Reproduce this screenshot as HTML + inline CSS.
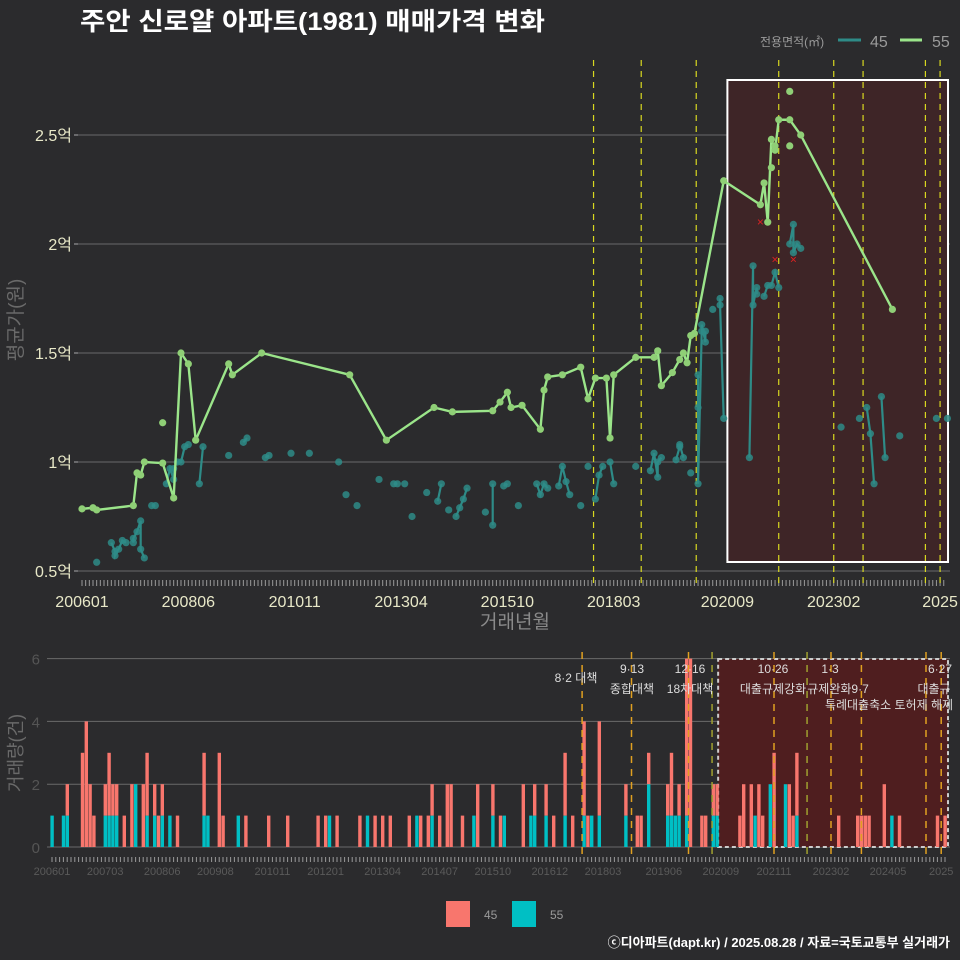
<!DOCTYPE html>
<html><head><meta charset="utf-8">
<style>
html,body{margin:0;padding:0;background:#2b2b2d;}
svg{display:block;font-family:"Liberation Sans","Noto Sans CJK KR",sans-serif;}
</style></head>
<body>
<svg id="chart" width="960" height="960" viewBox="0 0 960 960" xmlns="http://www.w3.org/2000/svg">
<rect width="960" height="960" fill="#2b2b2d"/>
<text x="80" y="30" fill="#ffffff" font-size="25" font-weight="bold" textLength="465" lengthAdjust="spacingAndGlyphs">주안 신로얄 아파트(1981) 매매가격 변화</text>
<g>
<text x="760" y="46" fill="#9a9a9a" font-size="12">전용면적(㎡)</text>
<line x1="838" y1="40" x2="861" y2="40" stroke="#2e8b87" stroke-width="3"/>
<text x="870" y="47" fill="#9a9a9a" font-size="16">45</text>
<line x1="900" y1="40" x2="922" y2="40" stroke="#9be58a" stroke-width="3"/>
<text x="932" y="47" fill="#9a9a9a" font-size="16">55</text>
</g>
<g id="topPanel"></g>
<g id="botPanel"></g>
<g>
<rect x="446" y="901" width="24" height="26" fill="#F8766D"/>
<text x="484" y="919" fill="#9a9a9a" font-size="12">45</text>
<rect x="512" y="901" width="24" height="26" fill="#00BFC4"/>
<text x="550" y="919" fill="#9a9a9a" font-size="12">55</text>
</g>
<text x="950" y="947" text-anchor="end" fill="#ffffff" font-size="13" font-weight="bold">ⓒ디아파트(dapt.kr) / 2025.08.28 / 자료=국토교통부 실거래가</text>
</svg>
<script>
// ---- data (month index: 0 = 2006-01) ----
const greenMonths=[0,3,4,14,15,16,17,22,25,27,29,31,40,41,49,73,83,96,101,112,114,116,117,120,125,126,127,131,136,138,140,143,144,145,151,156,157,158,161,163,164,165,166,167,175,185,186,187,188,189,190,193,196,221];
const greenValues=[0.785,0.79,0.78,0.80,0.95,0.94,1.0,0.995,0.835,1.5,1.45,1.10,1.45,1.40,1.50,1.40,1.10,1.25,1.23,1.235,1.275,1.32,1.25,1.26,1.15,1.33,1.39,1.40,1.435,1.29,1.385,1.385,1.11,1.40,1.48,1.48,1.51,1.35,1.41,1.47,1.50,1.455,1.58,1.59,2.29,2.18,2.28,2.10,2.48,2.43,2.57,2.57,2.50,1.70];
const greenExtraMonths=[22,188,189,193,193];
const greenExtraValues=[1.18,2.35,2.45,2.70,2.45];
const tealMonths=[4,8,9,9,10,11,12,14,14,15,16,16,17,19,20,23,24,25,25,26,27,28,29,32,33,40,44,45,50,51,57,62,70,72,75,81,85,86,88,90,94,97,98,100,102,103,104,105,110,112,112,115,116,119,124,125,126,127,130,131,132,133,136,138,140,141,142,144,145,151,155,156,157,157,158,162,163,163,164,166,168,168,168,169,169,170,170,172,174,174,175,182,183,183,184,184,186,187,188,189,190,193,194,194,195,196,207,212,214,215,216,218,219,223,233,236];
const tealValues=[0.54,0.63,0.59,0.57,0.60,0.64,0.63,0.63,0.65,0.68,0.73,0.60,0.56,0.80,0.80,0.90,0.97,0.92,0.97,1.0,1.0,1.07,1.08,0.90,1.07,1.03,1.09,1.11,1.02,1.03,1.04,1.04,1.0,0.85,0.80,0.92,0.90,0.90,0.90,0.75,0.86,0.82,0.90,0.78,0.75,0.79,0.83,0.88,0.77,0.71,0.90,0.89,0.90,0.80,0.90,0.85,0.90,0.88,0.89,0.98,0.91,0.85,0.80,0.98,0.83,0.94,0.98,1.0,0.90,0.98,0.96,1.04,0.93,1.0,1.02,1.01,1.07,1.08,1.02,0.95,1.25,1.40,0.90,1.60,1.63,1.55,1.60,1.70,1.75,1.72,1.20,1.02,1.90,1.72,1.80,1.77,1.76,1.81,1.81,1.87,1.80,2.0,2.09,1.96,2.0,1.98,1.16,1.20,1.25,1.13,0.90,1.30,1.02,1.12,1.20,1.20];
const redXMonths=[185,189,194];
const redXValues=[2.10,1.93,1.93];
const policyMonths=[139.5,152.5,167.5,190,205,213,230,234];
const bottomExtraLines=[173.7,198.7];
const yTicks=[0.5,1,1.5,2,2.5];
const yTickLabels=["0.5억","1억","1.5억","2억","2.5억"];
const topXTickMonths=[0,29,58,87,116,145,176,205,234];
const topXTickLabels=["200601","200806","201011","201304","201510","201803","202009","202302","2025"];
const botXTickMonths=[0,14,29,43,58,72,87,102,116,131,145,161,176,190,205,220,234];
const botXTickLabels=["200601","200703","200806","200908","201011","201201","201304","201407","201510","201612","201803","201906","202009","202111","202302","202405","2025"];
const barMonths45=[4,8,9,10,11,14,15,16,17,19,21,24,25,27,28,29,33,40,44,45,51,57,62,70,72,75,81,85,87,89,94,97,99,100,102,104,105,108,112,116,118,124,127,130,132,135,137,140,141,144,151,154,155,157,162,163,165,167,168,171,172,174,175,181,182,184,186,187,190,194,195,196,207,212,213,214,215,219,223,233,235];
const barCounts45=[1,3,4,2,1,1,2,1,1,1,2,2,2,1,1,1,1,2,3,1,1,1,1,1,1,1,1,1,1,1,1,1,1,1,1,2,2,1,2,1,1,2,1,1,1,2,1,3,1,3,1,1,1,1,1,2,1,5,6,1,1,1,1,1,2,2,2,1,3,2,1,2,1,1,1,1,1,2,1,1,1];
const barMonths55=[0,3,4,14,15,16,17,22,25,27,29,31,40,41,49,73,83,96,100,111,116,119,126,127,130,135,140,142,144,151,157,162,163,164,165,167,174,175,185,189,193,196,221];
const barCounts55=[1,1,1,1,1,1,1,2,1,1,1,1,1,1,1,1,1,1,1,1,1,1,1,1,1,1,1,1,1,1,2,1,1,1,1,1,1,1,1,2,2,1,1];
const yBarTicks=[0,2,4,6];

const NS="http://www.w3.org/2000/svg";
function mk(tag,attrs,parent){const e=document.createElementNS(NS,tag);for(const k in attrs)e.setAttribute(k,attrs[k]);parent.appendChild(e);return e;}
const tx=m=>82+m*3.667;
const ty=v=>571-(v-0.5)*218;
const topG=document.getElementById('topPanel');


yTicks.forEach((v,i)=>{
  const g=mk('line',{x1:78,x2:950,y1:ty(v),y2:ty(v),stroke:'#6a6a6a','stroke-width':1},topG);
  
  
  mk('line',{x1:74,x2:78,y1:ty(v),y2:ty(v),stroke:'#aaa'},topG);
  const t=mk('text',{x:72,y:ty(v)+6,'text-anchor':'end',fill:'#e8e8c8','font-size':16},topG);
  t.textContent=yTickLabels[i];
  
  
});
const hl=mk('rect',{x:tx(176),y:80,width:948-tx(176),height:482,fill:'#3e2527',stroke:'#ffffff','stroke-width':2},topG);


for(let m=0;m<=235;m++){mk('line',{x1:tx(m),x2:tx(m),y1:580,y2:586,stroke:'#9a9a9a','stroke-width':1},topG);}
topXTickMonths.forEach((m,i)=>{
  const t=mk('text',{x:tx(m),y:607,'text-anchor':'middle',fill:'#e8e8c8','font-size':16},topG);
  t.textContent=topXTickLabels[i];
  
  
});
policyMonths.forEach(m=>{
  const l=mk('line',{x1:tx(m),x2:tx(m),y1:60,y2:585,stroke:'#d8d820','stroke-width':1.2,'stroke-dasharray':'6,5'},topG);
  
  
});
const xt=mk('text',{x:515,y:628,'text-anchor':'middle',fill:'#8a8a8a','font-size':19},topG);
xt.textContent='거래년월';


const yt=mk('text',{x:22,y:320,'text-anchor':'middle',fill:'#6a6a6a','font-size':19,transform:'rotate(-90 22 320)'},topG);
yt.textContent='평균가(원)';


let seg=[];
function flush(){if(seg.length>1){const p=mk('polyline',{points:seg.map(q=>q.join(',')).join(' '),fill:'none',stroke:'#2e8b87','stroke-width':2.2},topG);}seg=[];}
tealMonths.forEach((m,i)=>{
  if(i>0 && m-tealMonths[i-1]>1) flush();
  seg.push([tx(m),ty(tealValues[i])]);
});
flush();
tealMonths.forEach((m,i)=>{
  const c=mk('circle',{cx:tx(m),cy:ty(tealValues[i]),r:3.6,fill:'#2e8b87','fill-opacity':0.85},topG);
  
  
});
const gl=mk('polyline',{points:greenMonths.map((m,i)=>tx(m)+','+ty(greenValues[i])).join(' '),fill:'none',stroke:'#9be58a','stroke-width':2.4},topG);


greenMonths.concat(greenExtraMonths).forEach((m,i)=>{
  const v=i<greenMonths.length?greenValues[i]:greenExtraValues[i-greenMonths.length];
  const c=mk('circle',{cx:tx(m),cy:ty(v),r:3.6,fill:'#8fcf76'},topG);
  
  
});
redXMonths.forEach((m,i)=>{
  const x=tx(m),y=ty(redXValues[i]);
  const t=mk('text',{x:x,y:y+4,'text-anchor':'middle',fill:'#dd2222','font-size':12},topG);
  t.textContent='×';
  
  
});
const bx=m=>52+m*3.80;
const by=c=>847-c*31.4;
const botG=document.getElementById('botPanel');


yBarTicks.forEach(v=>{
  const l=mk('line',{x1:47,x2:950,y1:by(v),y2:by(v),stroke:'#6a6a6a','stroke-width':1},botG);
  
  
  const t=mk('text',{x:40,y:by(v)+6,'text-anchor':'end',fill:'#555','font-size':15},botG);
  t.textContent=v;
  
  
});
const bhl=mk('rect',{x:bx(175.3),y:659,width:948-bx(175.3),height:188,fill:'#4f1e1f',stroke:'#cccccc','stroke-width':2,'stroke-dasharray':'4,3'},botG);


const c55={};barMonths55.forEach((m,i)=>c55[m]=barCounts55[i]);
barMonths55.forEach((m,i)=>{
  const r=mk('rect',{x:bx(m)-1.6,y:by(barCounts55[i]),width:3.4,height:barCounts55[i]*31.4,fill:'#00BFC4'},botG);
  
  
});
barMonths45.forEach((m,i)=>{
  const base=c55[m]||0;
  const r=mk('rect',{x:bx(m)-1.6,y:by(base+barCounts45[i]),width:3.4,height:barCounts45[i]*31.4,fill:'#F8766D'},botG);
  
  
});
policyMonths.concat(bottomExtraLines).forEach((m,i)=>{
  const l=mk('line',{x1:bx(m),x2:bx(m),y1:652,y2:858,stroke:i<policyMonths.length?'#e0a020':'#a0a030','stroke-width':1.5,'stroke-dasharray':'7,6'},botG);
  
  
});
for(let m=0;m<=235;m++){mk('line',{x1:bx(m),x2:bx(m),y1:857,y2:862,stroke:'#9a9a9a','stroke-width':1},botG);}
botXTickMonths.forEach((m,i)=>{
  const t=mk('text',{x:bx(m),y:875,'text-anchor':'middle',fill:'#5a5a5a','font-size':11},botG);
  t.textContent=botXTickLabels[i];
  
  
});
const ytb=mk('text',{x:22,y:753,'text-anchor':'middle',fill:'#6a6a6a','font-size':18,transform:'rotate(-90 22 753)'},botG);
ytb.textContent='거래량(건)';


const notes=[["8·2 대책",576,682],["9·13",632,673],["종합대책",632,693],["12·16",690,673],["18차대책",690,693],["10·26",773,673],["대출규제강화",773,693],["1·3",830,673],["규제완화9·7",838,693],["특례대출축소 토허제 해제",889,709],["6·27",940,673],["대출규",934,693]];
notes.forEach(n=>{
  const t=mk('text',{x:n[1],y:n[2],'text-anchor':'middle',fill:'#dddddd','font-size':12},botG);
  t.textContent=n[0];
  
  
});
</script>
</body></html>
